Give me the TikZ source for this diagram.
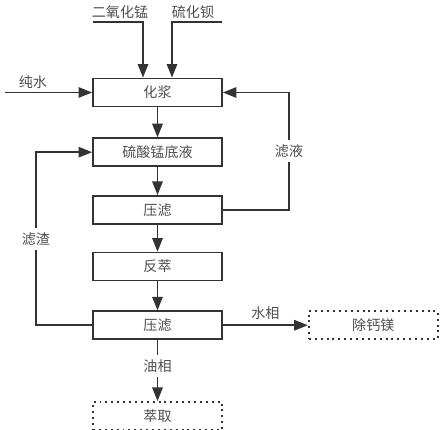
\documentclass[tikz,border=0pt]{standalone}
\usepackage{fontspec}
\setmainfont{Noto Sans CJK SC}
\usetikzlibrary{arrows.meta,positioning}
\definecolor{linegray}{HTML}{333333}
\definecolor{textgray}{HTML}{4D4D4D}
\tikzset{
    procbox/.style={draw=linegray, line width=1.2pt, minimum width=3.225cm,
        minimum height=0.7cm, font=\normalsize, text=textgray},
    dotbox/.style={procbox, line width=1.4pt, dash pattern=on 1.4pt off 2.8pt},
    flowarrow/.style={-{Triangle[length=3.4mm,width=2.6mm]}, draw=linegray, line width=1.2pt},
    flowlabel/.style={font=\normalsize, text=textgray}
}

\begin{document}
\begin{tikzpicture}
\useasboundingbox (0,0) rectangle (11.075,-10.75);
\node[procbox] (slurry) at (3.9375,-2.3125) {化浆};
\node[procbox, below=0.75cm of slurry] (base) {硫酸锰底液};
\node[procbox, below=0.7cm of base] (press1) {压滤};
\node[procbox, below=0.675cm of press1] (strip) {反萃};
\node[procbox, below=0.725cm of strip] (press2) {压滤};
\node[dotbox, below=1.525cm of press2] (extract) {萃取};
\node[dotbox, right=2.125cm of press2] (removal) {除钙镁};
% feeds
\coordinate (mnin) at (2.325,-0.55);
\coordinate (bain) at (5.55,-0.55);
\coordinate (water) at (0.125,-2.3125);
\coordinate (liqturn) at (7.225,0);
\coordinate (resturn) at (0.9,0);
\node[flowlabel] (mnlab) at (3.0,-0.3) {二氧化锰};
\node[flowlabel] (balab) at (4.825,-0.3) {硫化钡};
\node[flowlabel] (waterlab) at (0.825,-2.05) {纯水};
\draw[flowarrow] (mnin) -| ([xshift=-0.3625cm]slurry.north);
\draw[flowarrow] (bain) -| ([xshift=0.3625cm]slurry.north);
\draw[flowarrow] (water) -- (slurry);
% main line
\draw[flowarrow] (slurry) -- (base);
\draw[flowarrow] (base) -- (press1);
\draw[flowarrow] (press1) -- (strip);
\draw[flowarrow] (strip) -- (press2);
% recycle
\draw[flowarrow] (press1.east) -- (press1.east -| liqturn)
    -- node[flowlabel, fill=white] {滤液} (slurry.east -| liqturn) -- (slurry.east);
\draw[flowarrow] (press2.west) -- (press2.west -| resturn)
    -- node[flowlabel, fill=white] {滤渣} (base.west -| resturn) -- (base.west);
% outputs
\draw[flowarrow] (press2) -- node[flowlabel, above] {水相} (removal);
\draw[flowarrow] (press2) -- node[flowlabel, fill=white, pos=0.42] {油相} (extract);
\end{tikzpicture}
\end{document}
